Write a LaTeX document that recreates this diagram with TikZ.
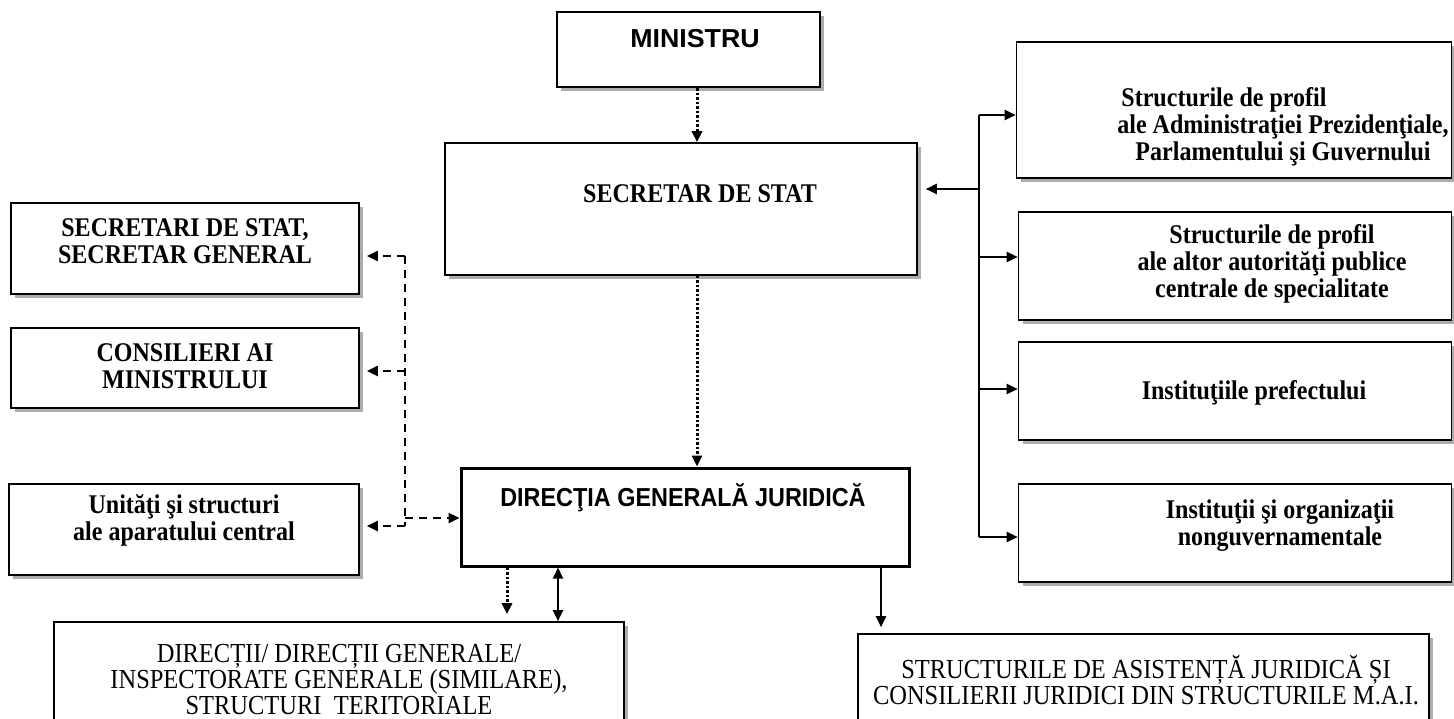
\documentclass[tikz,border=0pt]{standalone}
\usepackage{fontspec}
\setmainfont{Liberation Serif}[FakeStretch=0.89]
\newfontfamily\blackfont{Liberation Sans}[FakeStretch=0.9]
\newfontfamily\wideblackfont{Liberation Sans}[FakeStretch=1.03]
\usetikzlibrary{arrows.meta}
\usetikzlibrary{shadows}

\begin{document}
\begin{tikzpicture}[x=1pt, y=-1pt,
  >={Triangle[length=11pt, width=10pt]},
  box/.style={draw, line width=1.6pt, fill=white,
    drop shadow={shadow xshift=4pt, shadow yshift=-4pt, fill=black!32, opacity=1}},
  head/.style={font=\blackfont\bfseries\fontsize{26}{28}\selectfont},
  bold/.style={font=\bfseries\fontsize{27}{27}\selectfont, align=center},
  plain/.style={font=\fontsize{27.5}{26}\selectfont, align=center, inner sep=0.5pt},
  dots/.style={line width=3pt, dash pattern=on 2.5pt off 2pt},
  dashline/.style={line width=2.4pt, dash pattern=on 8pt off 6pt},
  link/.style={line width=2pt}]
\useasboundingbox (0,0) rectangle (1454,718);
% centre column
\node[box, line width=2.2pt, minimum width=263, minimum height=75] (min) at (688.5,49.5) {};
\node[head, font=\wideblackfont\bfseries\fontsize{26}{28}\selectfont] (min-t) at (695,39) {MINISTRU};
\node[box, minimum width=472, minimum height=132] (sec) at (681,209) {};
\node[bold] (sec-t) at (700,194) {SECRETAR DE STAT};
\node[draw, line width=3pt, fill=white, minimum width=448, minimum height=98] (dgj) at (685,517) {};
\node[head] (dgj-t) at (683,498) {DIREC\c{T}IA GENERALĂ JURIDICĂ};
\draw[dots, ->] ([xshift=8.5]min.south) -- ([xshift=8.5]min.south |- sec.north);
\draw[dots, ->] ([xshift=16]sec.south) -- ([xshift=16]sec.south |- dgj.north);
% right column
\node[box, minimum width=435, minimum height=136] (pres) at (1234,110) {};
\node[bold] (pres-t) at (1283,127) {Structurile de profil\hspace*{118pt}\\ ale Administraţiei Prezidenţiale,\\ Parlamentului şi Guvernului};
\node[box, minimum width=433, minimum height=108] (aut) at (1235,266) {};
\node[bold] (aut-t) at (1272,264) {Structurile de profil\\ ale altor autorităţi publice\\ centrale de specialitate};
\node[box, minimum width=433, minimum height=98] (pref) at (1235,391) {};
\node[bold] (pref-t) at (1254,393) {Instituţiile prefectului};
\node[box, minimum width=433, minimum height=98] (ong) at (1235,533) {};
\node[bold] (ong-t) at (1280,526) {Instituţii şi organizaţii\\ nonguvernamentale};
\coordinate (bus1) at (979,115);
\coordinate (bus2) at (979,257);
\coordinate (bus3) at (979,389);
\coordinate (bus4) at (979,537);
\coordinate (bus0) at (979,189);
\draw[link] (bus1) -- (bus4);
\draw[link, ->] (bus1) -- (bus1 -| pres.west);
\draw[link, ->] (bus2) -- (bus2 -| aut.west);
\draw[link, ->] (bus3) -- (bus3 -| pref.west);
\draw[link, ->] (bus4) -- (bus4 -| ong.west);
\draw[link, ->, shorten >=8pt] (bus0) -- (bus0 -| sec.east);
% left column
\node[box, minimum width=348, minimum height=91] (sg) at (185,248.5) {};
\node[bold] (sg-t) at (185,241) {SECRETARI DE STAT,\\ SECRETAR GENERAL};
\node[box, minimum width=348, minimum height=80] (cons) at (185,368) {};
\node[bold] (cons-t) at (185,366) {CONSILIERI AI\\ MINISTRULUI};
\node[box, minimum width=350, minimum height=91] (unit) at (184,529.5) {};
\node[bold] (unit-t) at (184,520) {Unităţi şi structuri\\ ale aparatului central};
\coordinate (dl1) at (405,256);
\coordinate (dl2) at (405,371);
\coordinate (dl3) at (405,518);
\coordinate (dl4) at (405,526);
\draw[dashline] (dl1) -- (dl4);
\draw[dashline, ->, shorten >=7pt] (dl1) -- (dl1 -| sg.east);
\draw[dashline, ->, shorten >=7pt] (dl2) -- (dl2 -| cons.east);
\draw[dashline, ->] (dl3) -- (dl3 -| dgj.west);
\draw[dashline, ->, shorten >=7pt] (dl4) -- (dl4 -| unit.east);
% bottom row
\node[box, minimum width=570, minimum height=120] (dir) at (339,682) {};
\node[plain] (dir-t) at (339,680) {DIRECȚII/ DIRECȚII GENERALE/\\ INSPECTORATE GENERALE (SIMILARE),\\ STRUCTURI~~TERITORIALE};
\node[box, minimum width=571, minimum height=108] (asist) at (1143.5,688) {};
\node[plain] (asist-t) at (1146,680) {STRUCTURILE DE ASISTENȚĂ JURIDICĂ ȘI\\ CONSILIERII JURIDICI DIN STRUCTURILE M.A.I.};
\draw[dots, ->, shorten >=7pt] ([xshift=-178]dgj.south) -- ([xshift=-178]dgj.south |- dir.north);
\draw[link, <->] ([xshift=-127]dgj.south) -- ([xshift=-127]dgj.south |- dir.north);
\draw[link, ->, shorten >=6pt] ([xshift=196]dgj.south) -- ([xshift=196]dgj.south |- asist.north);
\end{tikzpicture}
\end{document}
